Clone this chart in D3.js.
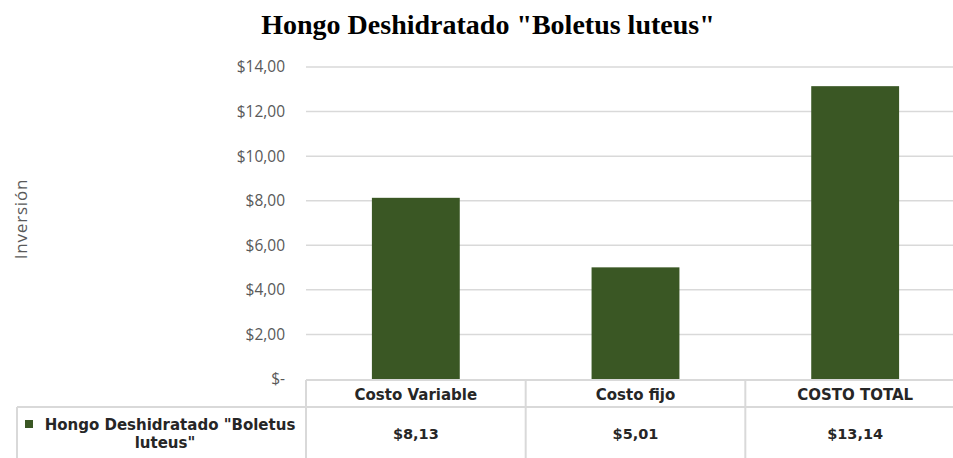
<!DOCTYPE html>
<html>
<head>
<meta charset="utf-8">
<script src="https://cdn.jsdelivr.net/npm/d3@7"></script>
<style>
  body { margin: 0; background: #fff; }
  svg { display: block; }
</style>
</head>
<body>
<div id="chart"></div>
<script>
// chart data
const chartTitle = 'Hongo Deshidratado "Boletus luteus"';
const seriesName = 'Hongo Deshidratado "Boletus luteus"';
const categories = ["Costo Variable", "Costo fijo", "COSTO TOTAL"];
const values = [8.13, 5.01, 13.14];
const tableLabels = ["$8,13", "$5,01", "$13,14"];
const yTicks = [0, 2, 4, 6, 8, 10, 12, 14];
const yTickLabels = ["$-", "$2,00", "$4,00", "$6,00", "$8,00", "$10,00", "$12,00", "$14,00"];

const W = 953, H = 458;
const plot = {left: 306, right: 965, top: 67, bottom: 379};
const barColor = "#3a5724";
const lineColor = "#d9d9d9";
const tableFont = "'DejaVu Sans', sans-serif";

const svg = d3.select("#chart").append("svg")
  .attr("width", W).attr("height", H);

const x = d3.scaleBand()
  .domain(categories)
  .range([plot.left, plot.right])
  .paddingInner(0.6).paddingOuter(0.3);

const xCol = d3.scaleBand()
  .domain(categories)
  .range([plot.left, plot.right]);

const y = d3.scaleLinear()
  .domain([0, 14])
  .range([plot.bottom, plot.top]);

// title
svg.append("text")
  .attr("x", 488).attr("y", 34)
  .attr("text-anchor", "middle")
  .style("font-family", "'Liberation Serif', serif")
  .style("font-weight", "bold")
  .style("font-size", "28px")
  .attr("fill", "#000")
  .text(chartTitle);

// gridlines
svg.append("g")
  .selectAll("line")
  .data(yTicks.filter(d => d > 0))
  .join("line")
  .attr("x1", plot.left).attr("x2", W)
  .attr("y1", d => y(d)).attr("y2", d => y(d))
  .attr("stroke", lineColor).attr("stroke-width", 1.5);

// y axis labels
const yAxis = d3.axisLeft(y)
  .tickValues(yTicks)
  .tickSize(0)
  .tickPadding(0)
  .tickFormat((d, i) => yTickLabels[i]);

svg.append("g")
  .attr("transform", "translate(285,0)")
  .call(yAxis)
  .call(g => g.select(".domain").remove())
  .call(g => g.selectAll("text")
    .style("font-family", "'Open Sans', sans-serif")
    .style("font-size", "15.5px")
    .attr("fill", "#595959"));

// y title
svg.append("text")
  .attr("transform", "translate(27,219) rotate(-90)")
  .attr("text-anchor", "middle")
  .style("font-family", "'Open Sans', sans-serif")
  .style("font-size", "17px")
  .style("letter-spacing", "0.8px")
  .attr("fill", "#595959")
  .text("Inversión");

// bars
svg.append("g")
  .selectAll("rect")
  .data(values)
  .join("rect")
  .attr("x", (d, i) => x(categories[i]))
  .attr("width", x.bandwidth())
  .attr("y", d => y(d))
  .attr("height", d => y(0) - y(d))
  .attr("fill", barColor);

// data table
const tableTop = 380, rowLine = 407, tableLeft = 17;
const grid = svg.append("g").attr("stroke", lineColor).attr("stroke-width", 2);
grid.append("line").attr("x1", plot.left).attr("x2", W).attr("y1", tableTop).attr("y2", tableTop);
grid.append("line").attr("x1", tableLeft).attr("x2", W).attr("y1", rowLine).attr("y2", rowLine);
grid.append("line").attr("x1", tableLeft).attr("x2", tableLeft).attr("y1", rowLine).attr("y2", H);
grid.selectAll(".col")
  .data(categories)
  .join("line")
  .attr("class", "col")
  .attr("x1", d => xCol(d)).attr("x2", d => xCol(d))
  .attr("y1", tableTop).attr("y2", H);

// category header row
svg.append("g")
  .selectAll("text")
  .data(categories)
  .join("text")
  .attr("x", d => x(d) + x.bandwidth() / 2)
  .attr("y", 400)
  .attr("text-anchor", "middle")
  .style("font-family", tableFont)
  .style("font-size", "15px")
  .style("font-weight", "bold")
  .attr("fill", "#262626")
  .text(d => d);

// values row
svg.append("g")
  .selectAll("text")
  .data(tableLabels)
  .join("text")
  .attr("x", (d, i) => x(categories[i]) + x.bandwidth() / 2)
  .attr("y", 439)
  .attr("text-anchor", "middle")
  .style("font-family", tableFont)
  .style("font-size", "14.5px")
  .style("font-weight", "bold")
  .attr("fill", "#262626")
  .text(d => d);

// legend key
svg.append("rect")
  .attr("x", 25).attr("y", 420)
  .attr("width", 8).attr("height", 8)
  .attr("fill", barColor);

const leg = svg.append("text")
  .attr("text-anchor", "middle")
  .style("font-family", tableFont)
  .style("font-size", "15px")
  .style("font-weight", "bold")
  .attr("fill", "#262626");
leg.append("tspan").attr("x", 170).attr("y", 430).text('Hongo Deshidratado "Boletus');
leg.append("tspan").attr("x", 165).attr("y", 448).text('luteus"');
</script>
</body>
</html>
